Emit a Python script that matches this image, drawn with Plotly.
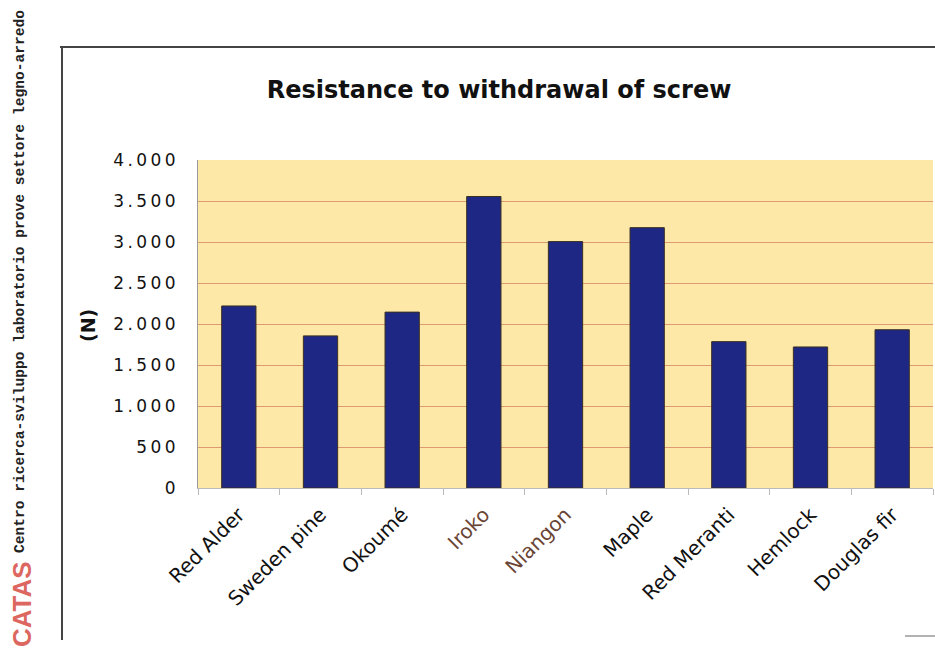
import plotly.graph_objects as go

# Screw withdrawal resistance by wood species (N)
species = ["Red Alder", "Sweden pine", "Okoumé", "Iroko", "Niangon",
           "Maple", "Red Meranti", "Hemlock", "Douglas fir"]
resistance_n = [2220, 1855, 2145, 3555, 3005, 3175, 1785, 1720, 1930]
label_colors = ["#111111", "#111111", "#111111", "#6a4535", "#6a4535",
                "#111111", "#111111", "#111111", "#111111"]

y_tickvals = [0, 500, 1000, 1500, 2000, 2500, 3000, 3500, 4000]
y_ticktext = ["0", "500", "1.000", "1.500", "2.000", "2.500", "3.000", "3.500", "4.000"]

# widen the axis numbers with thin spaces between glyphs
y_ticktext_spaced = ["\u2009".join(t) for t in y_ticktext]
x_ticktext = [f'<span style="color:{c}">{s}</span>' for s, c in zip(species, label_colors)]

W, H = 935, 656
ML, MR, MT, MB = 198, 2, 160, 168
pw, ph = W - ML - MR, H - MT - MB


def px_x(p):
    return (p - ML) / pw


def px_y(p):
    return (H - MB - p) / ph


fig = go.Figure(
    go.Bar(
        x=species,
        y=resistance_n,
        marker=dict(color="#1f2785", line=dict(color="#3a3020", width=1)),
        width=0.42,
        hoverinfo="x+y",
    )
)

fig.update_layout(
    width=W,
    height=H,
    margin=dict(l=ML, r=MR, t=MT, b=MB),
    paper_bgcolor="white",
    plot_bgcolor="#fde8a8",
    showlegend=False,
    font=dict(family="DejaVu Sans, Arial, sans-serif", color="#111111"),
    title=dict(
        text="<b>Resistance to withdrawal of screw</b>",
        x=499 / W,
        xanchor="center",
        y=1 - 90 / H,
        yanchor="middle",
        font=dict(family="DejaVu Sans, sans-serif", size=24, color="#111111"),
    ),
)

fig.update_yaxes(
    range=[0, 4000],
    tickvals=y_tickvals,
    ticktext=y_ticktext_spaced,
    tickfont=dict(size=17, color="#111111"),
    ticks="",
    ticklabelstandoff=18,
    showgrid=True,
    gridcolor="#de9a72",
    gridwidth=1,
    showline=True,
    linecolor="#9a9a9a",
    linewidth=1,
    zeroline=False,
    fixedrange=True,
)

fig.update_xaxes(
    tickvals=species,
    ticktext=x_ticktext,
    tickangle=-45,
    tickfont=dict(size=20, color="#111111"),
    ticks="outside",
    tickson="boundaries",
    ticklen=6,
    tickcolor="#bbbbbb",
    ticklabelstandoff=6,
    showline=True,
    linecolor="#bbbbbb",
    linewidth=1,
    showgrid=False,
    fixedrange=True,
)

# Y-axis unit
fig.add_annotation(
    text="<b>(N)</b>", textangle=-90, showarrow=False,
    xref="paper", yref="paper", x=px_x(88), y=px_y(326),
    xanchor="center", yanchor="middle",
    font=dict(size=19, color="#111111"),
)

# Outer page frame (top and left rules)
fig.add_shape(type="line", xref="paper", yref="paper",
              x0=px_x(60), x1=px_x(935), y0=px_y(47), y1=px_y(47),
              line=dict(color="#444444", width=2))
fig.add_shape(type="line", xref="paper", yref="paper",
              x0=px_x(62), x1=px_x(62), y0=px_y(47), y1=px_y(640),
              line=dict(color="#444444", width=2))
fig.add_shape(type="line", xref="paper", yref="paper",
              x0=px_x(905), x1=px_x(935), y0=px_y(636), y1=px_y(636),
              line=dict(color="#666666", width=1))

# Side imprint and logo
fig.add_annotation(
    text="<b>Centro ricerca-sviluppo laboratorio prove settore legno-arredo</b>",
    textangle=-90, showarrow=False,
    xref="paper", yref="paper", x=px_x(20), y=px_y(282),
    xanchor="center", yanchor="middle",
    font=dict(family="Liberation Mono, monospace", size=14.6, color="#222222"),
)
fig.add_annotation(
    text="<b>CATAS</b>",
    textangle=-90, showarrow=False,
    xref="paper", yref="paper", x=px_x(22), y=px_y(604),
    xanchor="center", yanchor="middle",
    font=dict(family="Liberation Sans, sans-serif", size=26, color="#dc6660"),
)

fig.write_html("out.html")
